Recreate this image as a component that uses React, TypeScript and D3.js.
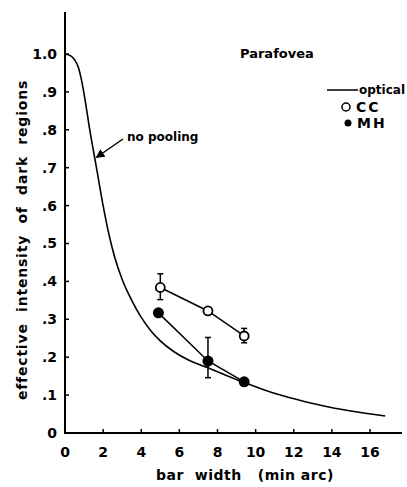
import React from "react";
import * as d3 from "d3";

const yTickValues = [0, 0.1, 0.2, 0.3, 0.4, 0.5, 0.6, 0.7, 0.8, 0.9, 1.0];
const yTickLabels = ["0", ".1", ".2", ".3", ".4", ".5", ".6", ".7", ".8", ".9", "1.0"];
const xTickValues = [0, 2, 4, 6, 8, 10, 12, 14, 16];
const xTickLabels = ["0", "2", "4", "6", "8", "10", "12", "14", "16"];

// optical "no pooling" curve
const opticalX = [0, 0.3, 0.5, 0.7, 0.85, 1.0, 1.3, 1.65, 2.0, 2.3, 2.6, 3.0, 3.5, 4.0, 4.5, 5.0, 5.7, 6.5, 7.5, 8.5, 9.4, 10.5, 11.3, 12.5, 13.9, 15.0, 16.8];
const opticalY = [1.0, 0.995, 0.985, 0.965, 0.935, 0.895, 0.8, 0.7, 0.6, 0.525, 0.465, 0.405, 0.35, 0.305, 0.27, 0.243, 0.215, 0.192, 0.172, 0.151, 0.133, 0.113, 0.1, 0.084, 0.068, 0.058, 0.045];

// CC (open circles)
const ccX = [5.0, 7.5, 9.4];
const ccY = [0.384, 0.322, 0.256];
const ccErrLo = [0.352, null, 0.238];
const ccErrHi = [0.42, null, 0.276];

// MH (filled circles)
const mhX = [4.9, 7.5, 9.4];
const mhY = [0.317, 0.19, 0.135];
const mhErrLo = [null, 0.146, null];
const mhErrHi = [null, 0.252, null];

const W = 407;
const H = 487;

export default function App() {
  const x = d3.scaleLinear().domain([0, 16]).range([65, 370]);
  const y = d3.scaleLinear().domain([0, 1]).range([433, 54]);
  const font = "'DejaVu Sans', sans-serif";

  const line = d3
    .line<number>()
    .x((_, i) => x(opticalX[i]))
    .y((d) => y(d))
    .curve(d3.curveMonotoneX);

  const ccLine = d3
    .line<number>()
    .x((_, i) => x(ccX[i]))
    .y((d) => y(d));
  const mhLine = d3
    .line<number>()
    .x((_, i) => x(mhX[i]))
    .y((d) => y(d));

  const err = (xs: number[], lo: (number | null)[], hi: (number | null)[], key: string) =>
    xs.map((xv, i) => {
      const l = lo[i];
      const h = hi[i];
      if (l == null || h == null) return null;
      const cx = x(xv);
      return (
        <g key={key + i} stroke="#000" strokeWidth={1.5} fill="none">
          <line x1={cx} x2={cx} y1={y(l)} y2={y(h)} />
          <line x1={cx - 3} x2={cx + 3} y1={y(l)} y2={y(l)} />
          <line x1={cx - 3} x2={cx + 3} y1={y(h)} y2={y(h)} />
        </g>
      );
    });

  return (
    <svg
      width={W}
      height={H}
      style={{ position: "absolute", left: 0, top: 0, background: "#fff" }}
      fontFamily={font}
    >
      <defs>
        <marker id="ah" viewBox="0 0 10 10" refX="8" refY="5" markerWidth="6" markerHeight="6" orient="auto">
          <path d="M0,0 L10,5 L0,10 z" fill="#000" />
        </marker>
      </defs>
      {/* axes */}
      <line x1={65} x2={65} y1={12} y2={433} stroke="#000" strokeWidth={2} />
      <line x1={64} x2={402} y1={433} y2={433} stroke="#000" strokeWidth={2} />
      {yTickValues.map((v, i) => (
        <g key={"yt" + i}>
          <line x1={65} x2={69} y1={y(v)} y2={y(v)} stroke="#000" strokeWidth={1.5} />
          <text x={57} y={y(v)} dy="0.35em" textAnchor="end" fontSize={14} fontWeight="bold">
            {yTickLabels[i]}
          </text>
        </g>
      ))}
      {xTickValues.map((v, i) => (
        <g key={"xt" + i}>
          <line x1={x(v)} x2={x(v)} y1={433} y2={429} stroke="#000" strokeWidth={1.5} />
          <text x={x(v)} y={452} dy="0.35em" textAnchor="middle" fontSize={14} fontWeight="bold">
            {xTickLabels[i]}
          </text>
        </g>
      ))}
      {/* axis titles */}
      <text x={245} y={480} textAnchor="middle" fontSize={14} fontWeight="bold" letterSpacing={0.5} style={{ whiteSpace: "pre" }}>
        {"bar  width   (min arc)"}
      </text>
      <text
        transform={`translate(22,${240}) rotate(-90)`}
        textAnchor="middle"
        dy="0.35em"
        fontSize={14}
        fontWeight="bold"
        letterSpacing={0.8}
        style={{ whiteSpace: "pre" }}
      >
        {"effective  intensity  of  dark  regions"}
      </text>

      {/* optical curve */}
      <path d={line(opticalY) || ""} fill="none" stroke="#000" strokeWidth={1.6} />

      {/* annotation */}
      <text x={127} y={137} dy="0.35em" fontSize={12} fontWeight="bold">
        no pooling
      </text>
      <line x1={123} y1={139} x2={97} y2={157} stroke="#000" strokeWidth={1.5} markerEnd="url(#ah)" />

      {/* CC */}
      <path d={ccLine(ccY) || ""} fill="none" stroke="#000" strokeWidth={1.5} />
      {err(ccX, ccErrLo, ccErrHi, "cce")}
      {ccX.map((xv, i) => (
        <circle key={"cc" + i} cx={x(xv)} cy={y(ccY[i])} r={4.5} fill="#fff" stroke="#000" strokeWidth={1.8} />
      ))}

      {/* MH */}
      <path d={mhLine(mhY) || ""} fill="none" stroke="#000" strokeWidth={1.5} />
      {err(mhX, mhErrLo, mhErrHi, "mhe")}
      {mhX.map((xv, i) => (
        <circle key={"mh" + i} cx={x(xv)} cy={y(mhY[i])} r={5.5} fill="#000" />
      ))}

      {/* legend */}
      <text x={240} y={53} dy="0.35em" fontSize={13} fontWeight="bold">
        Parafovea
      </text>
      <line x1={327} x2={358} y1={90} y2={90} stroke="#000" strokeWidth={1.5} />
      <text x={359} y={90} dy="0.35em" fontSize={12} fontWeight="bold">
        optical
      </text>
      <circle cx={346} cy={107} r={4} fill="#fff" stroke="#000" strokeWidth={1.5} />
      <text x={356} y={107} dy="0.35em" fontSize={14} fontWeight="bold" letterSpacing={2}>
        CC
      </text>
      <circle cx={348} cy={123} r={3.5} fill="#000" />
      <text x={357} y={123} dy="0.35em" fontSize={14} fontWeight="bold" letterSpacing={2}>
        MH
      </text>
    </svg>
  );
}
